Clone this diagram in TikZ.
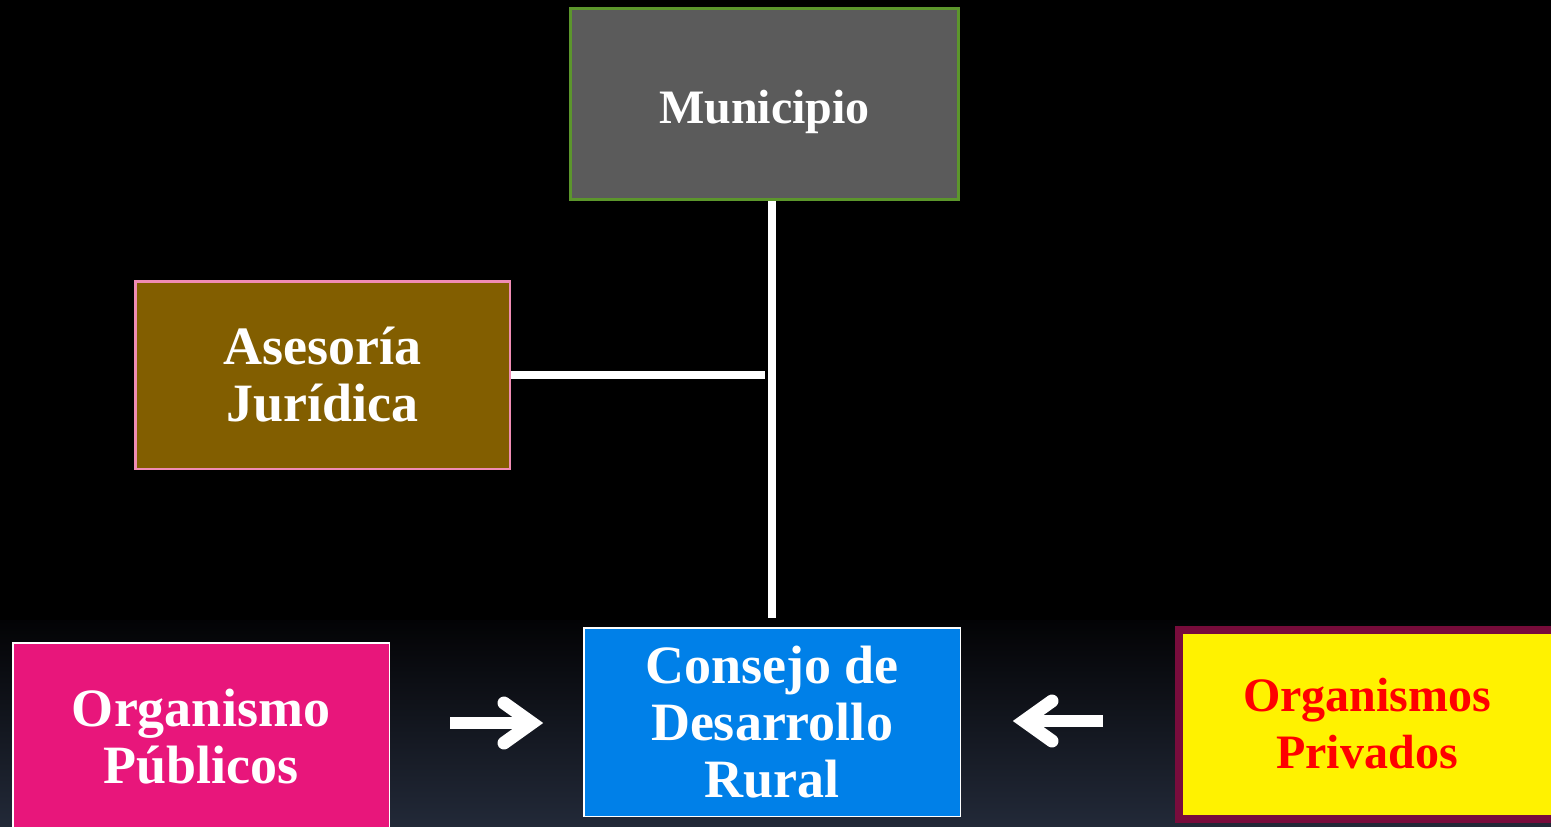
\documentclass[tikz,border=0pt]{standalone}
\usepackage{fontspec}
\setmainfont{Liberation Serif}
\definecolor{munfill}{RGB}{91,91,91}
\definecolor{mungreen}{RGB}{92,150,44}
\definecolor{asefill}{RGB}{130,94,0}
\definecolor{asepink}{RGB}{240,140,180}
\definecolor{confill}{RGB}{0,128,232}
\definecolor{pubfill}{RGB}{232,22,123}
\definecolor{privborder}{RGB}{120,12,60}
\definecolor{privtext}{RGB}{255,0,0}
\definecolor{bgbottom}{RGB}{34,41,56}
\definecolor{bgtop}{RGB}{3,3,5}
\begin{document}
\begin{tikzpicture}[x=1pt,y=-1pt,
  box/.style={draw, rectangle, inner sep=0pt, align=center,
    font=\bfseries\fontsize{54}{57}\selectfont, text=white},
  conn/.style={draw=white, line width=8pt},
  shaft/.style={draw=white, line width=12pt},
  chevron/.style={draw=white, line width=13pt, line cap=round, line join=miter}]
\useasboundingbox (0,0) rectangle (1551,827);
\fill[black] (0,0) rectangle (1551,827);
\shade[top color=bgtop, bottom color=bgbottom] (0,620) rectangle (1551,827);

\node[box, font=\bfseries\fontsize{48}{57}\selectfont, draw=mungreen, line width=3pt,
  fill=munfill, minimum width=388pt, minimum height=191pt, text height=38pt,
  text depth=0pt] (mun) at (764.5,104) {Municipio};
\node[box, draw=asepink, line width=2.5pt, fill=asefill, minimum width=374.5pt,
  minimum height=187.5pt] (ase) at (322.5,375) {Asesoría\\Jurídica};
\node[box, draw=white, line width=1.5pt, fill=confill, minimum width=376.5pt,
  minimum height=188.5pt] (con) at (772,722) {Consejo de\\Desarrollo\\Rural};
\node[box, draw=white, line width=1.5pt, fill=pubfill, minimum width=376.5pt,
  minimum height=188.5pt] (pub) at (201,737) {Organismo\\Públicos};
\node[box, font=\bfseries\fontsize{48}{57}\selectfont, draw=privborder, line width=8pt,
  fill=yellow, text=privtext, minimum width=376pt, minimum height=189pt]
  (priv) at (1367,724) {Organismos\\Privados};

% connectors
\coordinate (junc) at (con.north |- ase.east);
\draw[conn] (con.north |- mun.south) -- ([yshift=9pt]con.north);
\draw[conn] (ase.east) -- ([xshift=-7pt]junc);

% arrow from public bodies
\coordinate (a1t) at ([xshift=-51pt,yshift=-1pt]con.west);
\coordinate (a1s) at ([xshift=-133pt,yshift=-1pt]con.west);
\draw[shaft] (a1s) -- (a1t);
\draw[chevron] ([shift={(-28pt,20pt)}]a1t) -- (a1t) -- ([shift={(-28pt,-20pt)}]a1t);

% arrow from private bodies
\coordinate (a2t) at ([xshift=63pt,yshift=1pt]con.east);
\coordinate (a2s) at ([xshift=142pt,yshift=1pt]con.east);
\draw[shaft] (a2s) -- (a2t);
\draw[chevron] ([shift={(28pt,20pt)}]a2t) -- (a2t) -- ([shift={(28pt,-20pt)}]a2t);
\end{tikzpicture}
\end{document}
